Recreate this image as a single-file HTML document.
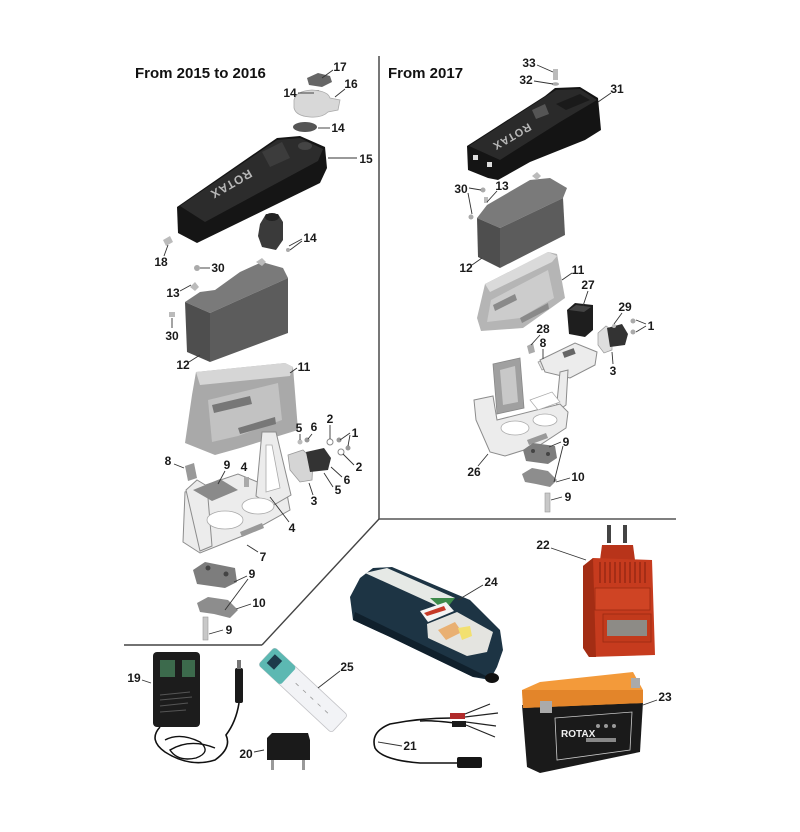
<!DOCTYPE html>
<html><head><meta charset="utf-8"><style>
html,body{margin:0;padding:0;background:#fff;}
svg{display:block;}
text{font-family:"Liberation Sans",sans-serif;}
.l{font-size:12px;font-weight:bold;fill:#1a1a1a;text-anchor:middle;}
.ln{stroke:#333;stroke-width:0.9;fill:none;}
.br{fill:#ececec;stroke:#8c8c8c;stroke-width:1;}
</style></head><body>
<svg width="800" height="832" viewBox="0 0 800 832" xmlns="http://www.w3.org/2000/svg">
<rect width="800" height="832" fill="#fff"/>

<!-- dividers -->
<line x1="379" y1="56" x2="379" y2="519" stroke="#555" stroke-width="1.6"/>
<line x1="379" y1="519" x2="676" y2="519" stroke="#555" stroke-width="1.6"/>
<line x1="379" y1="519" x2="262" y2="645" stroke="#444" stroke-width="1.4"/>
<line x1="262" y1="645" x2="124" y2="645" stroke="#444" stroke-width="1.6"/>

<!-- titles -->
<text x="135" y="78" font-size="15" font-weight="bold" fill="#111">From 2015 to 2016</text>
<text x="388" y="78" font-size="15" font-weight="bold" fill="#111">From 2017</text>

<!-- ============ LEFT PANEL ============ -->
<!-- part 17 -->
<path d="M307,78 L318,73 L330,76 L332,82 L322,87 L309,85 Z" fill="#666"/>
<!-- part 14 small screw -->
<rect x="316" y="90" width="3" height="4" fill="#999"/>
<!-- part 16 cap -->
<path d="M294,100 Q296,91 312,90 Q328,91 330,98 L340,100 L338,110 L328,112 Q322,118 310,117 Q296,116 294,108 Z" fill="#d8d8d8" stroke="#aaa" stroke-width="0.8"/>
<!-- part 14 oval -->
<ellipse cx="305" cy="127" rx="12" ry="5" fill="#555"/>
<!-- cover 15 -->
<path d="M177,207 L277,138 L300,136 L325,147 L327,168 L320,183 L197,243 L178,233 Z" fill="#151515"/>
<path d="M180,206 L277,140 L300,138 L323,149 L318,161 L205,222 Z" fill="#2c2c2c"/>
<path d="M262,152 L282,142 L290,158 L270,167 Z" fill="#3c3c3c"/>
<ellipse cx="305" cy="146" rx="7" ry="4" fill="#444"/>
<text x="231" y="188" font-size="12" font-weight="bold" fill="#b8b8b8" text-anchor="middle" transform="rotate(150 231 184)" letter-spacing="1">ROTAX</text>
<!-- part 14 switch -->
<path d="M260,224 L266,214 L278,214 L283,222 L283,240 L276,250 L262,247 L258,236 Z" fill="#3a3a3a"/>
<ellipse cx="272" cy="217" rx="7" ry="4" fill="#222"/>
<circle cx="288" cy="250" r="2" fill="#aaa"/>
<!-- part 18 bolt -->
<path d="M163,240 L170,236 L173,242 L166,246 Z" fill="#bbb"/>
<!-- battery 12 left -->
<path d="M185,302 L200,292 L215,290 L240,272 L262,262 L283,268 L288,278 L210,313 Z" fill="#7a7a7a"/>
<path d="M210,313 L288,278 L288,333 L210,362 Z" fill="#5c5c5c"/>
<path d="M185,302 L210,313 L210,362 L187,352 Z" fill="#4e4e4e"/>
<path d="M256,262 L262,258 L266,262 L262,266 Z" fill="#bbb"/>
<path d="M190,287 L195,282 L199,287 L195,291 Z" fill="#bbb"/>
<circle cx="197" cy="268" r="3" fill="#aaa"/>
<rect x="169" y="312" width="6" height="5" fill="#bbb"/>
<!-- tray 11 left -->
<path d="M196,372 L285,363 L293,367 L298,430 L240,448 L215,455 L185,443 L192,395 Z" fill="#a9a9a9"/>
<path d="M196,372 L285,363 L293,367 L290,376 L200,385 Z" fill="#d6d6d6"/>
<path d="M208,400 L278,383 L282,420 L238,436 L212,442 Z" fill="#c2c2c2"/>
<path d="M212,405 L250,396 L252,404 L214,413 Z" fill="#777"/>
<path d="M238,428 L275,417 L276,424 L240,434 Z" fill="#777"/>
<!-- bracket 7 left -->
<path class="br" d="M185,492 L238,474 L287,494 L290,510 L245,535 L200,553 L183,542 Z"/>
<path class="br" d="M262,432 L276,432 L291,495 L272,506 L256,496 Z"/>
<path d="M266,445 L272,445 L280,488 L266,492 Z" fill="#fff" stroke="#aaa" stroke-width="0.8"/>
<path class="br" d="M186,490 L197,480 L207,486 L212,546 L200,551 Z"/>
<ellipse cx="225" cy="520" rx="18" ry="9" fill="#fff" stroke="#aaa" stroke-width="0.8"/>
<ellipse cx="258" cy="506" rx="16" ry="8" fill="#fff" stroke="#aaa" stroke-width="0.8"/>
<path d="M240,532 L262,523 L264,528 L242,537 Z" fill="#999"/>
<!-- plate 9 -->
<path d="M193,490 L220,479 L238,490 L212,501 Z" fill="#8a8a8a"/>
<!-- part 8 -->
<path d="M185,466 L194,463 L197,478 L188,481 Z" fill="#999"/>
<!-- bolt 4 -->
<rect x="244" y="477" width="5" height="10" fill="#aaa"/>
<!-- solenoid left -->
<path d="M288,455 L303,450 L313,460 L312,480 L300,482 L290,470 Z" fill="#d5d5d5" stroke="#999" stroke-width="0.8"/>
<path d="M306,452 L324,448 L331,458 L328,470 L310,472 Z" fill="#333"/>
<circle cx="300" cy="442" r="2.5" fill="#bbb"/>
<circle cx="307" cy="440" r="2.5" fill="#999"/>
<circle cx="330" cy="442" r="3" fill="none" stroke="#888"/>
<circle cx="339" cy="440" r="2.5" fill="#999"/>
<circle cx="348" cy="448" r="2.5" fill="#999"/>
<circle cx="341" cy="452" r="3" fill="none" stroke="#888"/>
<!-- block 9 left -->
<path d="M193,570 L205,562 L235,568 L237,582 L225,588 L197,584 Z" fill="#7d7d7d"/>
<circle cx="208" cy="568" r="2.5" fill="#444"/>
<circle cx="226" cy="574" r="2.5" fill="#444"/>
<!-- plate 10 -->
<path d="M197,603 L208,597 L228,600 L238,610 L230,618 L214,614 L200,612 Z" fill="#8d8d8d"/>
<!-- bolt 9 -->
<rect x="203" y="617" width="5" height="23" fill="#c8c8c8" stroke="#999" stroke-width="0.6"/>

<!-- labels left -->
<text class="l" x="340" y="71">17</text><line class="ln" x1="333" y1="70" x2="322" y2="78"/>
<text class="l" x="290" y="97">14</text><line class="ln" x1="298" y1="93" x2="314" y2="93"/>
<text class="l" x="351" y="88">16</text><line class="ln" x1="345" y1="89" x2="335" y2="97"/>
<text class="l" x="338" y="132">14</text><line class="ln" x1="330" y1="128" x2="318" y2="128"/>
<text class="l" x="366" y="163">15</text><line class="ln" x1="357" y1="158" x2="328" y2="158"/>
<text class="l" x="310" y="242">14</text><line class="ln" x1="302" y1="239" x2="289" y2="246"/><line class="ln" x1="302" y1="241" x2="290" y2="250"/>
<text class="l" x="161" y="266">18</text><line class="ln" x1="164" y1="256" x2="168" y2="245"/>
<text class="l" x="218" y="272">30</text><line class="ln" x1="210" y1="268" x2="200" y2="268"/>
<text class="l" x="173" y="297">13</text><line class="ln" x1="180" y1="291" x2="191" y2="285"/>
<text class="l" x="172" y="340">30</text><line class="ln" x1="172" y1="328" x2="172" y2="318"/>
<text class="l" x="183" y="369">12</text><line class="ln" x1="189" y1="362" x2="200" y2="355"/>
<text class="l" x="304" y="371">11</text><line class="ln" x1="297" y1="368" x2="290" y2="373"/>
<text class="l" x="299" y="432">5</text><line class="ln" x1="300" y1="434" x2="300" y2="440"/>
<text class="l" x="314" y="431">6</text><line class="ln" x1="312" y1="434" x2="308" y2="439"/>
<text class="l" x="330" y="423">2</text><line class="ln" x1="330" y1="425" x2="330" y2="439"/>
<text class="l" x="355" y="437">1</text><line class="ln" x1="350" y1="433" x2="340" y2="440"/><line class="ln" x1="350" y1="435" x2="348" y2="446"/>
<text class="l" x="359" y="471">2</text><line class="ln" x1="354" y1="465" x2="343" y2="454"/>
<text class="l" x="347" y="484">6</text><line class="ln" x1="342" y1="477" x2="331" y2="467"/>
<text class="l" x="338" y="494">5</text><line class="ln" x1="333" y1="487" x2="324" y2="473"/>
<text class="l" x="314" y="505">3</text><line class="ln" x1="313" y1="495" x2="309" y2="483"/>
<text class="l" x="168" y="465">8</text><line class="ln" x1="174" y1="464" x2="184" y2="468"/>
<text class="l" x="227" y="469">9</text><line class="ln" x1="225" y1="471" x2="218" y2="484"/>
<text class="l" x="244" y="471">4</text>
<text class="l" x="292" y="532">4</text><line class="ln" x1="289" y1="522" x2="270" y2="497"/>
<text class="l" x="263" y="561">7</text><line class="ln" x1="258" y1="552" x2="247" y2="545"/>
<text class="l" x="252" y="578">9</text><line class="ln" x1="247" y1="576" x2="234" y2="582"/><line class="ln" x1="248" y1="579" x2="225" y2="610"/>
<text class="l" x="259" y="607">10</text><line class="ln" x1="251" y1="604" x2="236" y2="609"/>
<text class="l" x="229" y="634">9</text><line class="ln" x1="223" y1="630" x2="209" y2="634"/>

<!-- ============ RIGHT PANEL ============ -->
<!-- bolt 33 / washer 32 -->
<rect x="553" y="69" width="5" height="11" fill="#bbb"/>
<ellipse cx="555.5" cy="84" rx="3.5" ry="1.8" fill="#aaa"/>
<!-- cover 31 -->
<path d="M467,146 L520,112 L545,96 L555,88 L580,87 L598,98 L601,130 L585,140 L530,162 L498,180 L488,178 L468,170 Z" fill="#141414"/>
<path d="M469,146 L545,97 L556,90 L580,89 L597,100 L560,122 L500,160 Z" fill="#2a2a2a"/>
<path d="M532,110 L545,104 L549,114 L536,119 Z" fill="#555"/>
<path d="M556,104 L580,94 L590,100 L566,110 Z" fill="#1a1a1a"/>
<rect x="473" y="155" width="5" height="5" fill="#ddd"/>
<rect x="487" y="162" width="5" height="5" fill="#ddd"/>
<text x="512" y="141" font-size="11" font-weight="bold" fill="#b8b8b8" text-anchor="middle" transform="rotate(150 512 137)" letter-spacing="1">ROTAX</text>
<!-- battery 12 right -->
<path d="M477,218 L487,205 L530,180 L550,178 L567,188 L563,198 L500,228 Z" fill="#7a7a7a"/>
<path d="M500,228 L563,198 L565,235 L500,268 Z" fill="#5c5c5c"/>
<path d="M477,218 L500,228 L500,268 L478,257 Z" fill="#4e4e4e"/>
<path d="M532,176 L537,172 L541,176 L537,180 Z" fill="#bbb"/>
<circle cx="483" cy="190" r="2.5" fill="#aaa"/>
<circle cx="471" cy="217" r="2.5" fill="#aaa"/>
<rect x="484" y="197" width="4" height="6" fill="#bbb"/>
<!-- tray 11 right -->
<path d="M485,284 L548,252 L557,254 L565,298 L523,328 L481,331 L477,318 Z" fill="#b5b5b5"/>
<path d="M485,284 L548,252 L557,256 L552,262 L490,292 Z" fill="#dadada"/>
<path d="M491,300 L548,270 L554,298 L520,318 L487,322 Z" fill="#cccccc"/>
<path d="M493,305 L515,294 L517,300 L495,311 Z" fill="#8a8a8a"/>
<path d="M520,318 L548,303 L549,309 L522,323 Z" fill="#8a8a8a"/>
<!-- switch 27 -->
<path d="M567,310 L575,303 L593,305 L593,330 L585,337 L569,334 Z" fill="#1e1e1e"/>
<path d="M569,310 L576,305 L591,307 L584,312 Z" fill="#444"/>
<!-- solenoid 3 right -->
<path d="M598,333 L606,326 L612,330 L612,350 L604,353 L598,345 Z" fill="#dedede" stroke="#999" stroke-width="0.7"/>
<path d="M607,328 L622,324 L628,334 L625,345 L610,347 Z" fill="#333"/>
<circle cx="614" cy="326" r="2" fill="#bbb"/>
<circle cx="633" cy="321" r="2.5" fill="#aaa"/>
<circle cx="633" cy="332" r="2.5" fill="#aaa"/>
<!-- part 28 / 8 -->
<path d="M527,346 L533,343 L535,352 L529,354 Z" fill="#aaa"/>
<path d="M538,362 L548,358 L552,366 L542,370 Z" fill="#e5e5e5" stroke="#999" stroke-width="0.7"/>
<!-- bracket 26 -->
<path class="br" d="M540,360 L575,343 L597,352 L595,365 L570,378 L545,372 Z"/>
<rect x="563" y="350" width="12" height="6" fill="#666" transform="rotate(-20 569 353)"/>
<path class="br" d="M560,372 L568,370 L566,405 L556,412 Z"/>
<path d="M493,364 L520,358 L524,408 L497,414 Z" fill="#a0a0a0" stroke="#888" stroke-width="0.8"/>
<path d="M500,370 L515,366 L518,402 L503,405 Z" fill="#c8c8c8"/>
<path class="br" d="M474,400 L493,396 L497,420 L560,404 L568,412 L566,428 L540,445 L505,456 L490,452 L476,420 Z"/>
<ellipse cx="515" cy="428" rx="14" ry="7" fill="#fff" stroke="#aaa" stroke-width="0.8"/>
<ellipse cx="545" cy="420" rx="12" ry="6" fill="#fff" stroke="#aaa" stroke-width="0.8"/>
<path d="M527,440 L546,433 L548,438 L529,445 Z" fill="#999"/>
<path d="M530,400 L552,392 L560,402 L538,410 Z" fill="#fff" stroke="#aaa" stroke-width="0.7"/>
<!-- block 9 right -->
<path d="M523,450 L533,443 L555,446 L557,458 L548,464 L526,461 Z" fill="#7d7d7d"/>
<circle cx="533" cy="451" r="2" fill="#444"/>
<circle cx="548" cy="454" r="2" fill="#444"/>
<!-- plate 10 right -->
<path d="M522,474 L532,468 L548,471 L557,480 L550,487 L536,484 L525,482 Z" fill="#8d8d8d"/>
<rect x="545" y="493" width="5" height="19" fill="#c8c8c8" stroke="#999" stroke-width="0.6"/>

<!-- labels right -->
<text class="l" x="529" y="67">33</text><line class="ln" x1="537" y1="65" x2="553" y2="72"/>
<text class="l" x="526" y="84">32</text><line class="ln" x1="534" y1="81" x2="553" y2="84"/>
<text class="l" x="617" y="93">31</text><line class="ln" x1="611" y1="93" x2="598" y2="102"/>
<text class="l" x="461" y="193">30</text><line class="ln" x1="469" y1="188" x2="481" y2="190"/><line class="ln" x1="468" y1="193" x2="472" y2="214"/>
<text class="l" x="502" y="190">13</text><line class="ln" x1="497" y1="191" x2="487" y2="202"/>
<text class="l" x="466" y="272">12</text><line class="ln" x1="472" y1="265" x2="482" y2="258"/>
<text class="l" x="578" y="274">11</text><line class="ln" x1="572" y1="273" x2="562" y2="280"/>
<text class="l" x="588" y="289">27</text><line class="ln" x1="588" y1="291" x2="583" y2="306"/>
<text class="l" x="625" y="311">29</text><line class="ln" x1="622" y1="313" x2="614" y2="324"/>
<text class="l" x="651" y="330">1</text><line class="ln" x1="646" y1="324" x2="636" y2="320"/><line class="ln" x1="646" y1="326" x2="636" y2="332"/>
<text class="l" x="543" y="333">28</text><line class="ln" x1="540" y1="335" x2="531" y2="345"/>
<text class="l" x="543" y="347">8</text><line class="ln" x1="543" y1="349" x2="543" y2="359"/>
<text class="l" x="613" y="375">3</text><line class="ln" x1="613" y1="364" x2="612" y2="352"/>
<text class="l" x="566" y="446">9</text><line class="ln" x1="561" y1="442" x2="549" y2="447"/><line class="ln" x1="563" y1="446" x2="554" y2="482"/>
<text class="l" x="474" y="476">26</text><line class="ln" x1="478" y1="466" x2="488" y2="454"/>
<text class="l" x="578" y="481">10</text><line class="ln" x1="570" y1="478" x2="556" y2="482"/>
<text class="l" x="568" y="501">9</text><line class="ln" x1="562" y1="497" x2="551" y2="500"/>

<!-- ============ BOTTOM ============ -->
<!-- adapter 19 -->
<rect x="153" y="652" width="47" height="75" rx="4" fill="#1c1c1c"/>
<rect x="160" y="660" width="15" height="17" fill="#3c6a4c"/>
<rect x="182" y="660" width="13" height="17" fill="#3c6a4c"/>
<g stroke="#555" stroke-width="1"><line x1="160" y1="695" x2="190" y2="692"/><line x1="160" y1="700" x2="192" y2="697"/><line x1="160" y1="706" x2="188" y2="703"/><line x1="160" y1="712" x2="186" y2="710"/></g>
<path d="M160,727 Q148,740 165,752 Q190,768 215,760 Q232,748 226,735 Q236,722 239,703" stroke="#111" stroke-width="1.6" fill="none"/>
<path d="M165,740 Q180,732 200,742 Q212,752 196,758 Q178,762 170,750 Q190,738 215,748" stroke="#111" stroke-width="1.4" fill="none"/>
<rect x="235" y="668" width="8" height="35" rx="2" fill="#1a1a1a"/>
<rect x="237" y="660" width="4" height="9" fill="#777"/>
<!-- plug 20 -->
<path d="M267,738 L272,733 L308,733 L310,740 L310,760 L267,760 Z" fill="#1a1a1a"/>
<rect x="271" y="760" width="3" height="10" fill="#999"/>
<rect x="302" y="760" width="3" height="10" fill="#999"/>
<!-- tube 25 -->
<g transform="translate(303,690) rotate(43)">
<rect x="-50" y="-12" width="100" height="24" rx="3" fill="#f2f3f6" stroke="#c4c4c8" stroke-width="0.8"/>
<rect x="-50" y="-12" width="30" height="24" rx="3" fill="#5cb8b2"/>
<rect x="-45" y="-7" width="10" height="12" fill="#1d3a4a"/>
<g stroke="#999" stroke-width="0.8"><line x1="-10" y1="0" x2="-6" y2="0"/><line x1="0" y1="0" x2="4" y2="0"/><line x1="10" y1="0" x2="14" y2="0"/><line x1="20" y1="0" x2="24" y2="0"/><line x1="30" y1="0" x2="34" y2="0"/></g>
</g>
<!-- charger 24 -->
<path d="M350,597 L360,578 L373,568 L392,567 L470,600 L500,630 L503,650 L497,667 L490,680 L473,677 L390,637 L353,620 Z" fill="#1d3444"/>
<path d="M355,612 L470,668 L490,678 L473,677 L390,637 L353,620 Z" fill="#10202c"/>
<path d="M365,573 L387,568 L455,598 L442,608 Z" fill="#e6e9e6"/>
<path d="M430,598 L455,598 L447,608 L440,607 Z" fill="#3d8a4a"/>
<path d="M420,611 L446,602 L454,611 L428,622 Z" fill="#f4f4f4"/>
<path d="M424,613 L444,606 L446,610 L427,616 Z" fill="#c53a28"/>
<path d="M427,624 L457,612 L493,632 L487,652 L467,656 L428,638 Z" fill="#e4e4e0"/>
<path d="M438,630 L455,622 L462,632 L446,640 Z" fill="#e9b072"/>
<path d="M458,628 L470,626 L472,636 L462,640 Z" fill="#f2e070"/>
<ellipse cx="492" cy="678" rx="7" ry="5" fill="#111"/>
<!-- charger 22 red -->
<rect x="607" y="525" width="4" height="18" fill="#444"/>
<rect x="623" y="525" width="4" height="18" fill="#444"/>
<path d="M602,545 L633,545 L635,560 L600,560 Z" fill="#b8341a"/>
<path d="M583,566 L593,558 L652,560 L655,655 L589,657 L583,648 Z" fill="#c63b1e"/>
<path d="M583,566 L593,558 L596,657 L589,657 L583,648 Z" fill="#a32d14"/>
<g stroke="#8e2410" stroke-width="1.2">
<line x1="600" y1="562" x2="600" y2="583"/><line x1="605" y1="562" x2="605" y2="583"/><line x1="610" y1="562" x2="610" y2="583"/><line x1="615" y1="562" x2="615" y2="583"/><line x1="620" y1="562" x2="620" y2="583"/><line x1="625" y1="562" x2="625" y2="583"/><line x1="630" y1="562" x2="630" y2="583"/><line x1="635" y1="562" x2="635" y2="583"/><line x1="640" y1="562" x2="640" y2="583"/><line x1="645" y1="562" x2="645" y2="583"/>
</g>
<rect x="595" y="588" width="55" height="22" fill="#cf4424" stroke="#9a2a12" stroke-width="0.8"/>
<rect x="603" y="614" width="48" height="28" fill="#c23a1c" stroke="#9a2a12" stroke-width="0.8"/>
<rect x="607" y="620" width="40" height="16" fill="#8d8b86"/>
<!-- battery 23 -->
<path d="M522,705 L643,702 L640,752 L540,773 L527,767 Z" fill="#1a1a1a"/>
<path d="M522,690 L540,682 L633,672 L643,690 L643,703 L523,708 Z" fill="#f39a3a"/>
<path d="M522,690 L643,690 L643,703 L523,708 Z" fill="#e3852a"/>
<rect x="540" y="701" width="12" height="12" fill="#aaa"/>
<rect x="631" y="678" width="9" height="10" fill="#aaa"/>
<path d="M555,718 L632,712 L630,750 L557,760 Z" fill="none" stroke="#ccc" stroke-width="0.8"/>
<text x="561" y="737" font-size="10" font-weight="bold" fill="#f0f0f0">ROTAX</text>
<rect x="586" y="738" width="30" height="4" fill="#888"/>
<circle cx="598" cy="726" r="2" fill="#999"/><circle cx="606" cy="726" r="2" fill="#999"/><circle cx="614" cy="726" r="2" fill="#999"/>
<!-- cable 21 -->
<path d="M452,718 Q420,718 390,724 Q370,732 375,748 Q382,760 420,763 L458,763" stroke="#111" stroke-width="1.6" fill="none"/>
<path d="M455,723 Q430,720 420,721" stroke="#111" stroke-width="1.4" fill="none"/>
<rect x="450" y="713" width="15" height="6" fill="#b02a2a"/>
<path d="M465,714 L490,704 M465,717 L498,713" stroke="#222" stroke-width="1.2"/>
<rect x="452" y="721" width="14" height="6" fill="#1a1a1a"/>
<path d="M466,722 L496,726 M466,725 L495,737" stroke="#222" stroke-width="1.2"/>
<rect x="457" y="757" width="25" height="11" rx="2" fill="#151515"/>

<!-- labels bottom -->
<text class="l" x="134" y="682">19</text><line class="ln" x1="142" y1="680" x2="151" y2="683"/>
<text class="l" x="246" y="758">20</text><line class="ln" x1="254" y1="752" x2="264" y2="750"/>
<text class="l" x="347" y="671">25</text><line class="ln" x1="340" y1="671" x2="318" y2="688"/>
<text class="l" x="491" y="586">24</text><line class="ln" x1="483" y1="585" x2="458" y2="600"/>
<text class="l" x="543" y="549">22</text><line class="ln" x1="551" y1="548" x2="586" y2="560"/>
<text class="l" x="665" y="701">23</text><line class="ln" x1="657" y1="700" x2="643" y2="705"/>
<text class="l" x="410" y="750">21</text><line class="ln" x1="402" y1="746" x2="378" y2="742"/>
</svg>
</body></html>
